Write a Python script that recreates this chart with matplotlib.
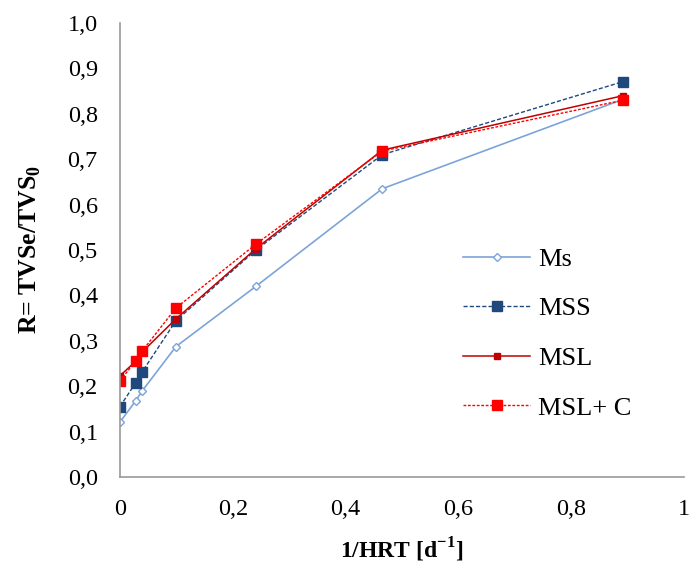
import matplotlib
matplotlib.use('Agg')
from matplotlib import pyplot as plt
from matplotlib.ticker import FuncFormatter
import numpy as np

plt.rcParams['font.family'] = ['Liberation Serif', 'DejaVu Serif']
plt.rcParams['mathtext.fontset'] = 'custom'
plt.rcParams['mathtext.rm'] = 'Liberation Serif'
plt.rcParams['mathtext.bf'] = 'Liberation Serif:bold'

# 1/HRT values
x_vals = [0.0, 0.028, 0.039, 0.099, 0.241, 0.465, 0.892]

ms = [0.121, 0.168, 0.189, 0.287, 0.420, 0.635, 0.832]
mss = [0.155, 0.208, 0.231, 0.344, 0.500, 0.710, 0.871]
msl = [0.223, 0.255, 0.275, 0.348, 0.503, 0.720, 0.840]
mslc = [0.212, 0.256, 0.277, 0.372, 0.513, 0.718, 0.830]

fig = plt.figure(figsize=(6.89, 5.76), dpi=100)
ax = fig.add_axes([0.1742, 0.172, 0.8186, 0.788])

ax.plot(x_vals, ms, color='#7da4d8', lw=1.2, marker='D', ms=4.5,
        mfc='white', mec='#7da4d8', mew=1.0, label='Ms')
ax.plot(x_vals, mss, color='#1f497d', lw=1.0, ls=(0, (3, 1.5)), marker='s', ms=7,
        mfc='#1f497d', mec='#1f497d', label='MSS')
ax.plot(x_vals, msl, color='#c00000', lw=1.1, marker='s', ms=5,
        mfc='#c00000', mec='#c00000', label='MSL')
ax.plot(x_vals, mslc, color='#ff0000', lw=1.0, ls=(0, (2, 1.2)), marker='s', ms=7.5,
        mfc='#ff0000', mec='#ff0000', label='MSL+ C')

ax.set_xlim(0, 1)
ax.set_ylim(0, 1.0)
ax.set_xticks(np.arange(0, 1.01, 0.2))
ax.set_yticks(np.arange(0, 1.01, 0.1))

def comma_x(v, pos):
    if abs(v) < 1e-9:
        return '0'
    if abs(v - 1) < 1e-9:
        return '1'
    return ('%.1f' % v).replace('.', ',')

ax.xaxis.set_major_formatter(FuncFormatter(comma_x))
ax.yaxis.set_major_formatter(FuncFormatter(lambda v, p: ('%.1f' % v).replace('.', ',')))

ax.tick_params(axis='both', length=0, labelsize=17.5)
ax.tick_params(axis='y', pad=16)
ax.tick_params(axis='x', pad=16)

for s in ['top', 'right']:
    ax.spines[s].set_visible(False)
for s in ['left', 'bottom']:
    ax.spines[s].set_color('#999999')
    ax.spines[s].set_linewidth(1.2)

ax.set_xlabel('1/HRT [d$^{\\mathbf{-1}}$]', fontsize=17, fontweight='bold', labelpad=11)
ax.set_ylabel('R= TVSe/TVS$_{\\mathbf{0}}$', fontsize=18.5, fontweight='bold', labelpad=18)

leg = fig.legend(loc='center left', bbox_to_anchor=(0.672, 0.421), frameon=False,
                 fontsize=19, labelspacing=0.99, handlelength=2.55, handletextpad=0.3,
                 borderpad=0, borderaxespad=0)

fig.savefig('out.png', dpi=100)
